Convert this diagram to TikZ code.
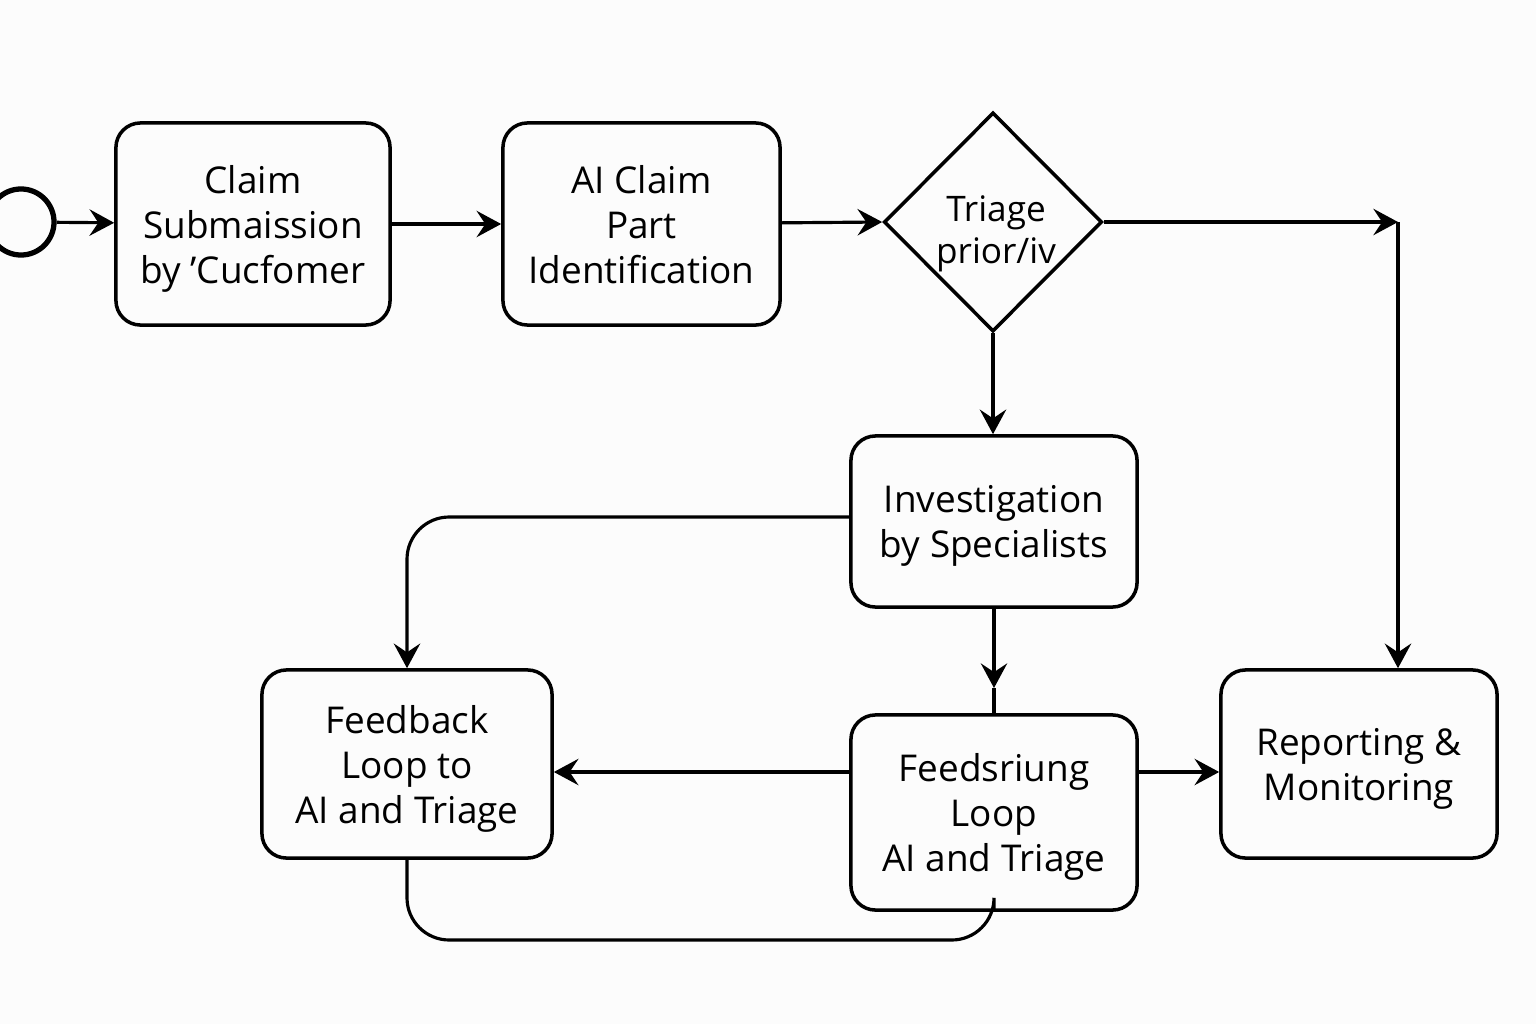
\documentclass[tikz,border=0pt]{standalone}
\usepackage{fontspec}
\setmainfont{Open Sans}
\usetikzlibrary{arrows.meta,shapes.geometric}
\tikzset{
  box/.style={draw=black, line width=1pt, rounded corners=7pt, align=center, inner sep=0pt, text depth=-1pt, font=\fontsize{10.5pt}{12.8pt}\selectfont},
  dia/.style={draw=black, line width=1pt, diamond, inner sep=0pt, align=center, font=\fontsize{10pt}{12pt}\selectfont},
  conn/.style={draw=black, line width=0.9pt},
  arr/.style={conn, -{Stealth[length=7pt,width=7.5pt,inset=2.5pt]}},
}
\begin{document}
\begin{tikzpicture}[x=0.01cm,y=-0.01cm]
\useasboundingbox[fill=white!99!black] (0,0) rectangle (1536,1024);
\node[draw=black, line width=1.5pt, circle, minimum size=0.66cm, inner sep=0pt] (start) at (21,222) {};
\node[box, minimum width=2.74cm, minimum height=2.02cm] (claim) at (253,224) {Claim\\Submaission\\by 'Cucfomer};
\node[box, minimum width=2.77cm, minimum height=2.02cm] (ai) at (641.5,224) {AI Claim\\Part\\Identification};
\node[dia, minimum width=2.18cm, minimum height=2.19cm] (tri) at (993,222) {};
\node[font=\fontsize{10pt}{12pt}\selectfont, align=center] (tritext) at (996,234) {Triage\\prior/iv};
\node[box, minimum width=2.86cm, minimum height=1.71cm] (inv) at (994,521.5) {Investigation\\by Specialists};
\node[box, minimum width=2.90cm, minimum height=1.88cm] (fb) at (407,764) {Feedback\\Loop to\\AI and Triage};
\node[box, minimum width=2.86cm, minimum height=1.95cm] (fs) at (994,812.5) {Feedsriung\\Loop\\AI and Triage};
\node[box, minimum width=2.76cm, minimum height=1.88cm] (rep) at (1359,764) {Reporting \&\\Monitoring};
\coordinate (c1) at (1398,222);
\coordinate (m1) at (994,688);
\coordinate (y1) at (0,772);
\coordinate (y2) at (0,517);
\coordinate (b) at (0,940);
\draw[arr] (start) -- (claim);
\draw[arr] (claim) -- (ai);
\draw[arr] (ai) -- (tri.west);
\draw[arr] (tri.east) -- (c1);
\draw[arr] (c1) -- (c1 |- rep.north);
\draw[arr] (tri.south) -- (inv.north -| tri.south);
\draw[arr, rounded corners=12pt] (inv.west |- y2) -| (fb.north);
\draw[arr] (inv.south) -- (m1);
\draw[conn] (m1) -- (fs.north);
\draw[arr] (fs.west |- y1) -- (fb.east |- y1);
\draw[arr] (fs.east |- y1) -- (rep.west |- y1);
\draw[conn, rounded corners=12pt] (fb.south) -- (fb.south |- b) -- (fs.south |- b) -- (fs.south);
\end{tikzpicture}
\end{document}
